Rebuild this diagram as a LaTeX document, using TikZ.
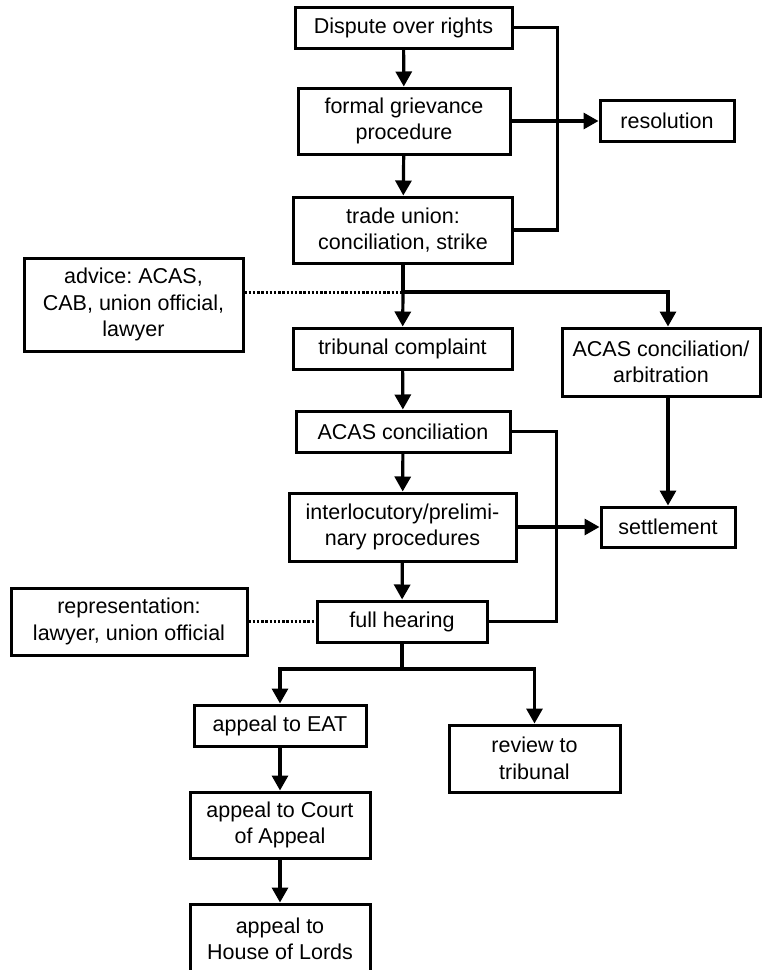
\documentclass[tikz,border=0pt]{standalone}
\usepackage{fontspec}
\setmainfont{Liberation Sans}
\usetikzlibrary{arrows.meta}
\begin{document}
\frenchspacing
\begin{tikzpicture}[x=1pt, y=-1pt,
        box/.style={draw=black, line width=3pt, inner sep=0pt, align=center, font=\fontsize{21.5}{26.5}\selectfont},
        flow/.style={line width=3.2pt, -{Triangle[width=16pt,length=15pt]}},
        wire/.style={line width=3.2pt},
        hint/.style={line width=3pt, dash pattern=on 2.4pt off 1.8pt}]
        \useasboundingbox (0,0) rectangle (762,970);
        \clip (0,0) rectangle (762,970);

        \node[box, minimum width=217pt, minimum height=41pt] (dispute) at (403.5,27.5) {Dispute over rights};
        \node[box, minimum width=212pt, minimum height=66pt] (formal) at (404,121) {formal grievance\\procedure};
        \node[box, minimum width=134pt, minimum height=41pt] (resolution) at (667,121) {resolution};
        \node[box, minimum width=219pt, minimum height=66pt] (trade) at (403,230) {trade union:\\conciliation, strike};
        \node[box, minimum width=219pt, minimum height=93pt] (advice) at (133.5,304.5) {advice: ACAS,\\CAB, union official,\\lawyer};
        \node[box, minimum width=219pt, minimum height=41pt] (tribunal) at (402.5,348.5) {tribunal complaint};
        \node[box, minimum width=198pt, minimum height=68pt] (arbitration) at (661,362) {ACAS conciliation/\\arbitration};
        \node[box, minimum width=214pt, minimum height=41pt] (acas) at (403,431.5) {ACAS conciliation};
        \node[box, minimum width=227pt, minimum height=68pt] (interloc) at (402.5,527) {interlocutory/prelimi-\\nary procedures};
        \node[box, minimum width=134pt, minimum height=40pt] (settlement) at (668,527) {settlement};
        \node[box, minimum width=170pt, minimum height=41pt] (hearing) at (402,621.5) {full hearing};
        \node[box, minimum width=236pt, minimum height=67pt] (represent) at (129,621.5) {representation:\\lawyer, union official};
        \node[box, minimum width=172pt, minimum height=41pt] (eat) at (280,725.5) {appeal to EAT};
        \node[box, minimum width=171pt, minimum height=67pt] (review) at (534.5,758.5) {review to\\tribunal};
        \node[box, minimum width=180pt, minimum height=66pt] (court) at (280,825) {appeal to Court\\of Appeal};
        \node[box, minimum width=180pt, minimum height=70pt] (lords) at (280,939) {appeal to\\House of Lords};

        \coordinate (split1) at (403,292);
        \coordinate (split2) at (402,669);

        \draw[flow] (dispute) -- (formal);
        \draw[flow] (formal) -- (trade);
        \draw[flow] (formal.east) -- (resolution.west);
        \draw[wire] (dispute.east) -- ++(44,0) |- (trade.east);

        \draw[wire] (trade) -- (split1);
        \draw[flow] (split1) -- (tribunal);
        \draw[flow] (split1) -| ([xshift=7pt]arbitration.north);
        \draw[hint] (advice.east |- split1) -- (split1);

        \draw[flow] (tribunal) -- (acas);
        \draw[flow] (acas) -- (interloc);
        \draw[flow] (interloc) -- (hearing);
        \draw[wire] (acas.east) -- ++(45,0) |- (hearing.east);
        \draw[flow] (interloc.east) -- (settlement.west);
        \draw[flow] ([xshift=7pt]arbitration.south) -- (settlement.north);
        \draw[hint] (represent.east) -- (hearing.west);

        \draw[wire] (hearing) -- (split2);
        \draw[flow] (split2) -| (eat.north);
        \draw[flow] (split2) -| (review.north);
        \draw[flow] (eat) -- (court);
        \draw[flow] (court) -- (lords);
\end{tikzpicture}
\end{document}
